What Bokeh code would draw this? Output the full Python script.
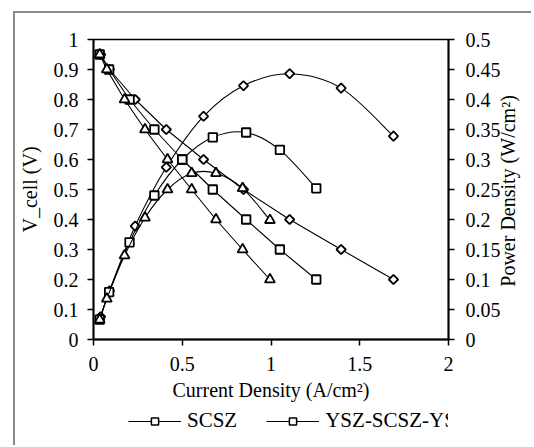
import math
from bokeh.plotting import figure
from bokeh.layouts import column
from bokeh.models import Range1d, LinearAxis, FixedTicker, Legend, LegendItem
from bokeh.embed import file_html
from bokeh.resources import INLINE

# ---------------- data ----------------
voltage = [0.95, 0.90, 0.80, 0.70, 0.60, 0.50, 0.40, 0.30, 0.20]

current_scsz = [0.04, 0.09, 0.235, 0.41, 0.62, 0.845, 1.105, 1.395, 1.69]
power_scsz = [0.038, 0.081, 0.189, 0.287, 0.372, 0.423, 0.443, 0.419, 0.339]

current_sandwich = [0.035, 0.088, 0.203, 0.343, 0.50, 0.672, 0.86, 1.05, 1.255]
power_sandwich = [0.033, 0.079, 0.162, 0.240, 0.300, 0.337, 0.345, 0.316, 0.252]

current_ysz = [0.035, 0.075, 0.175, 0.29, 0.417, 0.553, 0.69, 0.84, 0.994]
power_ysz = [0.033, 0.068, 0.140, 0.203, 0.250, 0.277, 0.277, 0.252, 0.199]

series_names = ["SCSZ", "YSZ-SCSZ-YSZ", "YSZ"]

x_ticks = [0, 0.5, 1, 1.5, 2]
x_tick_labels = ["0", "0.5", "1", "1.5", "2"]
v_ticks = [0, 0.1, 0.2, 0.3, 0.4, 0.5, 0.6, 0.7, 0.8, 0.9, 1]
v_tick_labels = ["0", "0.1", "0.2", "0.3", "0.4", "0.5", "0.6", "0.7", "0.8", "0.9", "1"]
p_ticks = [0, 0.05, 0.1, 0.15, 0.2, 0.25, 0.3, 0.35, 0.4, 0.45, 0.5]
p_tick_labels = ["0", "0.05", "0.1", "0.15", "0.2", "0.25", "0.3", "0.35", "0.4", "0.45", "0.5"]

x_title = "Current Density (A/cm²)"
v_title = "V_cell (V)"
p_title = "Power Density (W/cm²)"

FONT = "Liberation Serif"
TICK_SIZE = "20px"
TITLE_SIZE = "20px"
LEGEND_SIZE = "21px"
BORDER = "2px solid #8a8a8a"
P_TITLE_START = 0.088   # where the rotated right-axis title begins (power units)


def smooth_segments(xs, ys):
    """Bezier control points (Catmull-Rom style) for a smoothed line through the data."""
    n = len(xs)
    out = {k: [] for k in ("x0", "y0", "x1", "y1", "cx0", "cy0", "cx1", "cy1")}
    for i in range(n - 1):
        xa, ya = (xs[i - 1], ys[i - 1]) if i > 0 else (xs[i], ys[i])
        xd, yd = (xs[i + 2], ys[i + 2]) if i + 2 < n else (xs[i + 1], ys[i + 1])
        out["x0"].append(xs[i]); out["y0"].append(ys[i])
        out["x1"].append(xs[i + 1]); out["y1"].append(ys[i + 1])
        out["cx0"].append(xs[i] + (xs[i + 1] - xa) / 6.0)
        out["cy0"].append(ys[i] + (ys[i + 1] - ya) / 6.0)
        out["cx1"].append(xs[i + 1] - (xd - xs[i]) / 6.0)
        out["cy1"].append(ys[i + 1] - (yd - ys[i]) / 6.0)
    return out


p = figure(width=518, height=396,
           x_range=Range1d(0, 2), y_range=Range1d(0, 1),
           output_backend="svg", toolbar_location=None,
           min_border_left=77, min_border_right=82,
           min_border_top=26, min_border_bottom=70,
           background_fill_color="white", border_fill_color="white")
# grey chart-area border: only its left and top edges fall inside the window
p.margin = (11, 0, 0, 13)
p.styles = {"border-left": BORDER, "border-top": BORDER}
p.extra_y_ranges = {"power": Range1d(0, 0.5)}

p.grid.visible = False
p.outline_line_color = "black"
p.outline_line_width = 1.3


def style_axis(ax, ticks, labels):
    ax.ticker = FixedTicker(ticks=ticks)
    ax.major_label_overrides = {t: l for t, l in zip(ticks, labels)}
    ax.minor_tick_line_color = None
    ax.major_tick_in = 0
    ax.major_tick_out = 6
    ax.major_tick_line_width = 1.5
    ax.axis_line_width = 2
    ax.axis_line_color = "black"
    ax.major_tick_line_color = "black"
    ax.major_label_text_font = FONT
    ax.major_label_text_font_size = TICK_SIZE
    ax.major_label_text_color = "black"
    ax.axis_label_text_font = FONT
    ax.axis_label_text_font_size = TITLE_SIZE
    ax.axis_label_text_font_style = "normal"
    ax.axis_label_text_color = "black"


xax = p.xaxis[0]
style_axis(xax, x_ticks, x_tick_labels)
xax.axis_label = x_title
xax.major_label_standoff = 11
xax.axis_label_standoff = 5

yax = p.yaxis[0]
style_axis(yax, v_ticks, v_tick_labels)
yax.axis_label = v_title
yax.major_label_standoff = 9
yax.axis_label_standoff = 10

rax = LinearAxis(y_range_name="power")
style_axis(rax, p_ticks, p_tick_labels)
rax.major_label_standoff = 11
p.add_layout(rax, "right")

# right-axis title, reading bottom-to-top: carried as the single label of a bare axis
rtitle = LinearAxis(y_range_name="power")
style_axis(rtitle, [P_TITLE_START], [p_title])
rtitle.axis_line_color = None
rtitle.major_tick_line_color = None
rtitle.major_tick_out = 0
rtitle.major_label_standoff = 5
rtitle.major_label_orientation = math.pi / 2
p.add_layout(rtitle, "right")

currents = [current_scsz, current_sandwich, current_ysz]
powers = [power_scsz, power_sandwich, power_ysz]
markers = [("square", 6.6, 0.785398), ("square", 8.5, 0.0), ("triangle", 10, 0.0)]

for name, cur, pw, (mk, sz, ang) in zip(series_names, currents, powers, markers):
    p.line(cur, voltage, line_color="black", line_width=1.1)
    seg = smooth_segments(cur, pw)
    p.bezier(x0=seg["x0"], y0=seg["y0"], x1=seg["x1"], y1=seg["y1"],
             cx0=seg["cx0"], cy0=seg["cy0"], cx1=seg["cx1"], cy1=seg["cy1"],
             line_color="black", line_width=1.1, y_range_name="power")
    p.scatter(cur, voltage, marker=mk, size=sz, angle=ang,
              fill_color="white", line_color="black", line_width=1.8)
    p.scatter(cur, pw, marker=mk, size=sz, angle=ang, y_range_name="power",
              fill_color="white", line_color="black", line_width=1.8)

# ---------------- legend strip below the chart ----------------
# The strip's ranges lie away from the data, so its renderers only feed the legend samples.
lf = figure(width=518, height=38, x_range=Range1d(5, 6), y_range=Range1d(5, 6),
            x_axis_type=None, y_axis_type=None,
            output_backend="svg", toolbar_location=None,
            min_border_left=0, min_border_right=0, min_border_top=0, min_border_bottom=0,
            background_fill_color="white", border_fill_color="white")
lf.margin = (0, 0, 0, 13)
lf.styles = {"border-left": BORDER}
lf.outline_line_color = None

items = []
for name, cur, (mk, sz, ang) in zip(series_names, currents, markers):
    lr = lf.line(cur, voltage, line_color="black", line_width=1.1)
    sr = lf.scatter(cur, voltage, marker=mk, size=sz, angle=ang,
                    fill_color="white", line_color="black", line_width=1.5)
    items.append(LegendItem(label=name, renderers=[lr, sr]))

legend = Legend(items=items, orientation="horizontal", location=(35, 12),
                glyph_width=53, glyph_height=18, label_standoff=6, spacing=29,
                padding=0, margin=0,
                label_text_font=FONT, label_text_font_size=LEGEND_SIZE,
                label_text_color="black",
                border_line_color=None, background_fill_alpha=0)
lf.add_layout(legend)

layout = column(p, lf, spacing=0)
open("out.html", "w").write(file_html(layout, INLINE))
